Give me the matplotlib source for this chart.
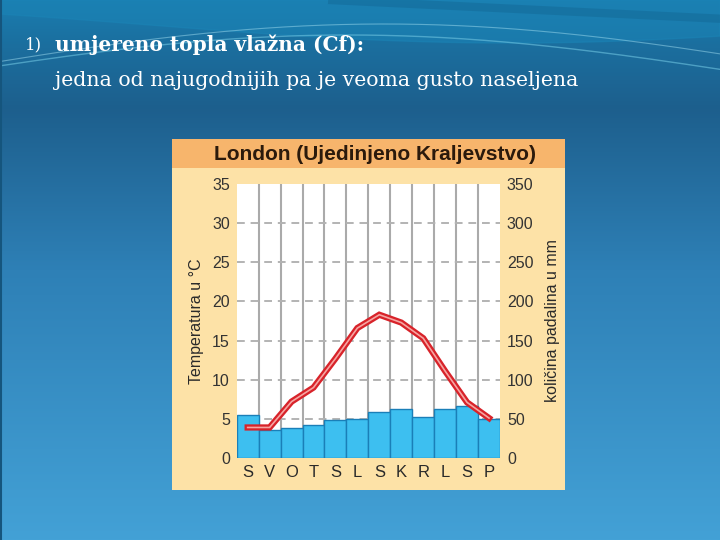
import numpy as np
import matplotlib
matplotlib.use("Agg")
import matplotlib.pyplot as plt
from matplotlib.patches import Rectangle
from matplotlib.colors import LinearSegmentedColormap

# ---- data ----
months = ["S", "V", "O", "T", "S", "L", "S", "K", "R", "L", "S", "P"]
temperature = [3.9, 3.9, 7.2, 9.0, 12.7, 16.6, 18.3, 17.3, 15.3, 11.1, 7.1, 5.1]
precipitation = [55, 36, 38, 42, 49, 50, 59, 62, 53, 62, 67, 50]
temp_ticks = [0, 5, 10, 15, 20, 25, 30, 35]
prec_ticks = [0, 50, 100, 150, 200, 250, 300, 350]
title = "London (Ujedinjeno Kraljevstvo)"
heading_num = "1)"
heading_bold = "umjereno topla vlažna (Cf):"
heading_text = "jedna od najugodnijih pa je veoma gusto naseljena"

W, H = 720, 540
fig = plt.figure(figsize=(W / 100, H / 100), dpi=100)

# ---- slide background ----
bg = fig.add_axes([0, 0, 1, 1], zorder=-10)
bg.set_xlim(0, W)
bg.set_ylim(H, 0)
bg.axis("off")
cmap = LinearSegmentedColormap.from_list(
    "slide", [(0, "#1a7db0"), (0.08, "#1b6f9f"), (0.2, "#1d5f8d"),
              (0.5, "#2e80b6"), (1.0, "#43a1d6")])
grad = np.linspace(0, 1, 256).reshape(-1, 1)
bg.imshow(grad, cmap=cmap, extent=[0, W, H, 0], aspect="auto", zorder=0)
xs = np.linspace(0, W, 300)
bg.fill_between(xs, 0, 25 + 18 * np.sin((xs - 150) / 230), color="#1a84b6", alpha=0.55, zorder=1)
bg.plot(xs, 75 - 40 * np.sin((xs + 60) / 260), color="#6ec4e0", lw=1.0, alpha=0.6, zorder=2)
bg.plot(xs, 68 - 44 * np.sin((xs + 40) / 270), color="#9fdcef", lw=0.8, alpha=0.5, zorder=2)
bg.plot(xs[xs > 330], 0.048 * (xs[xs > 330] - 330), color="#0f5f8a", lw=6, alpha=0.35, zorder=2)
bg.plot([0.5, 0.5], [0, H], color="#15557d", lw=1.5, zorder=3)

# slide text
bg.text(25, 45, heading_num, color="white", fontsize=12, family="DejaVu Serif",
        va="center", ha="left", zorder=5)
bg.text(55, 45, heading_bold, color="white", fontsize=14.5, family="DejaVu Serif",
        fontweight="bold", va="center", ha="left", zorder=5)
bg.text(55, 80, heading_text, color="white", fontsize=14.7, family="DejaVu Serif",
        va="center", ha="left", zorder=5)

# ---- chart panel ----
bg.add_patch(Rectangle((172, 139), 565 - 172, 490 - 139, facecolor="#fde2a7",
                       edgecolor="none", zorder=4))
bg.add_patch(Rectangle((172, 139), 565 - 172, 168 - 139, facecolor="#f7b56c",
                       edgecolor="none", zorder=4))
bg.text(375, 154, title, color="#2b1a0c", fontsize=15, fontweight="bold",
        family="Liberation Sans", ha="center", va="center", zorder=5)

# ---- plot axes ----
left, right = 236.7 / W, 500 / W
bottom, top = (H - 458) / H, (H - 184) / H
ax = fig.add_axes([left, bottom, right - left, top - bottom])
ax.set_facecolor("white")
x = np.arange(len(months))
ax.set_xlim(-0.5, len(months) - 0.5)
ax.set_ylim(0, 350)
ax.set_axisbelow(True)
for b in np.arange(0.5, len(months) - 0.5, 1):
    ax.axvline(b, color="#aaaaaa", lw=1.5, zorder=0)
for t in prec_ticks[1:-1]:
    ax.axhline(t, color="#b3b3b3", lw=1.4, ls=(0, (4, 3)), zorder=0)
ax.bar(x, precipitation, width=1.0, color="#3dbff0", edgecolor="#1a7fb8",
       linewidth=1.0, zorder=2)
for s in ax.spines.values():
    s.set_visible(False)

ax_t = ax.twinx()
ax_t.set_ylim(0, 35)
for s in ax_t.spines.values():
    s.set_visible(False)
ax_t.plot(x, temperature, color="#d8232a", lw=4.5, solid_joinstyle="miter", zorder=5)
ax_t.plot(x, temperature, color="#f6a5a2", lw=1.2, solid_joinstyle="miter", zorder=6)

# precipitation axis on the right, temperature on the left
ax.yaxis.tick_right()
ax.yaxis.set_label_position("right")
ax.set_yticks(prec_ticks)
ax.set_xticks(x)
ax.set_xticklabels(months)
ax.tick_params(axis="y", length=0, labelsize=11.5, colors="#333333", pad=5,
               left=False, labelleft=False, right=False, labelright=True)
ax.tick_params(axis="x", length=0, pad=5, labelsize=12, colors="#2a2a2a")
ax.set_ylabel("količina padalina u mm", fontsize=11.5, color="#2a2a2a",
              family="Liberation Sans", labelpad=8)

ax_t.yaxis.tick_left()
ax_t.yaxis.set_label_position("left")
ax_t.set_yticks(temp_ticks)
ax_t.tick_params(axis="y", length=0, labelsize=11.5, colors="#333333", pad=5,
                 right=False, labelright=False, left=False, labelleft=True)
ax_t.set_ylabel("Temperatura u °C", fontsize=11.5, color="#2a2a2a",
                family="Liberation Sans", labelpad=6)
for lab in ax.get_yticklabels() + ax.get_xticklabels() + ax_t.get_yticklabels():
    lab.set_family("Liberation Sans")

fig.savefig("out.png", dpi=100)
